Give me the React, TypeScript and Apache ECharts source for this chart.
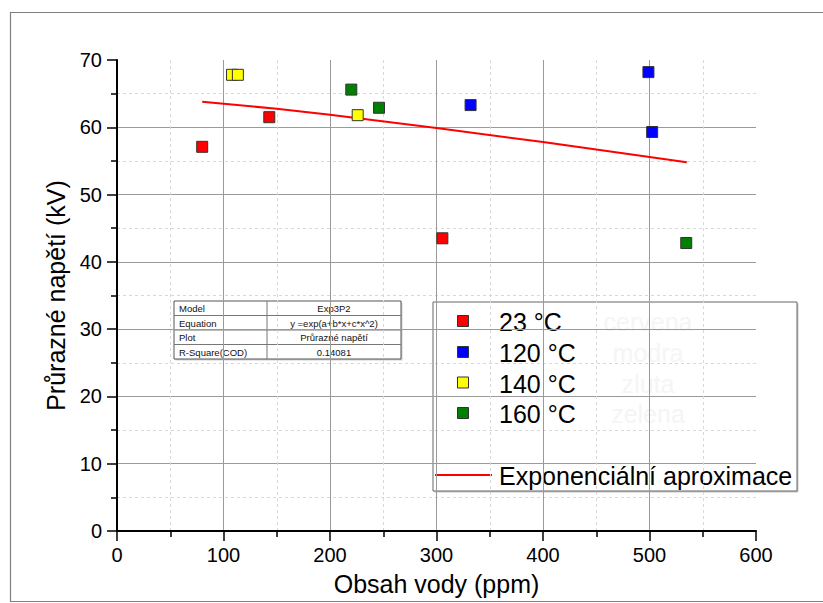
import React, { useEffect, useRef } from "react";
import * as echarts from "echarts";

const FONT = '"Liberation Sans", Arial, Helvetica, sans-serif';

// Measured series: [water content (ppm), breakdown voltage (kV)]
const SERIES_NAMES = ["23 °C", "120 °C", "140 °C", "160 °C"];
const SERIES_COLORS = ["#ff0000", "#0000ff", "#ffff00", "#008000"];
const data23 = [[80, 57.1], [143, 61.5], [305.5, 43.5]];
const data120 = [[332, 63.3], [499, 68.2], [502.5, 59.3]];
const data140 = [[108, 67.8], [113.5, 67.8], [226, 61.8]];
const data160 = [[220, 65.6], [246, 62.9], [534.5, 42.8]];
const SERIES_DATA = [data23, data120, data140, data160];

// Exponential fit curve, read at several water contents
const FIT_NAME = "Exponenciální aproximace";
const fitX = [80, 150, 200, 300, 400, 500, 535];
const fitY = [63.8, 62.75, 61.85, 59.9, 57.8, 55.6, 54.8];

// Hidden colour names kept in the legend box
const faintNames = ["cervena", "modra", "zluta", "zelena"];

// Fit report table
const tableRows = [
  ["Model", "Exp3P2"],
  ["Equation", "y =exp(a+b*x+c*x^2)"],
  ["Plot", "Průrazné napětí"],
  ["R-Square(COD)", "0.14081"],
];

const X_TITLE = "Obsah vody (ppm)";
const Y_TITLE = "Průrazné napětí (kV)";

function buildTable(): any {
  const x0 = 174;
  const y0 = 301;
  const w = 227;
  const col = 93;
  const rowH = 14.5;
  const children: any[] = [];
  children.push({
    type: "rect",
    shape: { x: x0 + 1.5, y: y0 + 1.5, width: w, height: rowH * tableRows.length },
    style: { fill: "#d0d0d0" },
  });
  children.push({
    type: "rect",
    shape: { x: x0, y: y0, width: w, height: rowH * tableRows.length },
    style: { fill: "#ffffff", stroke: "#555", lineWidth: 1 },
  });
  tableRows.forEach((row, i) => {
    if (i > 0) {
      children.push({
        type: "line",
        shape: { x1: x0, y1: y0 + i * rowH, x2: x0 + w, y2: y0 + i * rowH },
        style: { stroke: "#777", lineWidth: 1 },
      });
    }
    children.push({
      type: "text",
      style: {
        x: x0 + 5,
        y: y0 + i * rowH + rowH / 2 + 0.5,
        text: row[0],
        fontFamily: FONT,
        fontSize: 9.5,
        fill: "#111",
        verticalAlign: "middle",
        align: "left",
      },
    });
    children.push({
      type: "text",
      style: {
        x: x0 + col + (w - col) / 2,
        y: y0 + i * rowH + rowH / 2 + 0.5,
        text: row[1],
        fontFamily: FONT,
        fontSize: 9.5,
        fill: "#111",
        verticalAlign: "middle",
        align: "center",
      },
    });
  });
  children.push({
    type: "line",
    shape: { x1: x0 + col, y1: y0, x2: x0 + col, y2: y0 + rowH * tableRows.length },
    style: { stroke: "#777", lineWidth: 1 },
  });
  return { type: "group", children };
}

function buildLegend(): any {
  const children: any[] = [];
  children.push({
    type: "rect",
    shape: { x: 434.5, y: 303.5, width: 364, height: 189 },
    style: { fill: "#c8c8c8" },
  });
  children.push({
    type: "rect",
    shape: { x: 433, y: 302, width: 364, height: 189 },
    style: { fill: "#ffffff", stroke: "#666", lineWidth: 1 },
  });
  const rowsY = [321, 352, 382.5, 413];
  SERIES_NAMES.forEach((name, i) => {
    children.push({
      type: "rect",
      shape: { x: 457.5, y: rowsY[i] - 5.5, width: 11, height: 11 },
      style: { fill: SERIES_COLORS[i], stroke: "#333", lineWidth: 1 },
    });
    children.push({
      type: "text",
      style: {
        x: 499,
        y: rowsY[i] + 1,
        text: name,
        fontFamily: FONT,
        fontSize: 25,
        fill: "#000",
        verticalAlign: "middle",
        align: "left",
      },
    });
    children.push({
      type: "text",
      style: {
        x: 648,
        y: rowsY[i] + 1,
        text: faintNames[i],
        fontFamily: FONT,
        fontSize: 25,
        fill: "#f5f5f5",
        verticalAlign: "middle",
        align: "center",
      },
    });
  });
  children.push({
    type: "line",
    shape: { x1: 435, y1: 475, x2: 492, y2: 475 },
    style: { stroke: "#ff0000", lineWidth: 2 },
  });
  children.push({
    type: "text",
    style: {
      x: 499,
      y: 476,
      text: FIT_NAME,
      fontFamily: FONT,
      fontSize: 25,
      fill: "#000",
      verticalAlign: "middle",
      align: "left",
    },
  });
  return { type: "group", children };
}

function axisCommon(): any {
  return {
    type: "value",
    nameLocation: "middle",
    nameTextStyle: { fontFamily: FONT, fontSize: 25, color: "#000" },
    axisLine: { show: true, onZero: false, lineStyle: { color: "#000", width: 2 } },
    axisTick: { show: true, length: 10, lineStyle: { color: "#000", width: 1.5 } },
    minorTick: { show: true, splitNumber: 2, length: 6, lineStyle: { color: "#000", width: 1.5 } },
    axisLabel: { fontFamily: FONT, fontSize: 20, color: "#000" },
    splitLine: {
      show: true,
      showMinLine: false,
      showMaxLine: false,
      lineStyle: { color: "#9a9a9a", width: 1 },
    },
    minorSplitLine: {
      show: true,
      lineStyle: { color: "#d8d8d8", width: 1, type: [3, 3] },
    },
  };
}

export default function App() {
  const ref = useRef<HTMLDivElement>(null);

  useEffect(() => {
    if (!ref.current) return;
    const chart = echarts.init(ref.current, null, { renderer: "svg" });

    const scatterSeries = SERIES_NAMES.map((name, i) => ({
      name,
      type: "scatter",
      data: SERIES_DATA[i],
      symbol: "rect",
      symbolSize: 11,
      itemStyle: { color: SERIES_COLORS[i], borderColor: "#333", borderWidth: 1, opacity: 1 },
      z: 3,
    }));

    chart.setOption({
      animation: false,
      backgroundColor: "#ffffff",
      grid: { left: 117, top: 60, right: 67, bottom: 72, containLabel: false },
      xAxis: {
        ...axisCommon(),
        min: 0,
        max: 600,
        interval: 100,
        name: X_TITLE,
        nameGap: 40,
        axisLabel: { ...axisCommon().axisLabel, margin: 14 },
      },
      yAxis: {
        ...axisCommon(),
        min: 0,
        max: 70,
        interval: 10,
        name: Y_TITLE,
        nameGap: 42,
        axisLabel: { ...axisCommon().axisLabel, margin: 15 },
      },
      series: [
        {
          name: FIT_NAME,
          type: "line",
          data: fitX.map((x, i) => [x, fitY[i]]),
          symbol: "none",
          smooth: false,
          lineStyle: { color: "#ff0000", width: 2 },
          z: 2,
        },
        ...scatterSeries,
      ],
      graphic: [
        {
          type: "rect",
          shape: { x: 10.5, y: 12.5, width: 830, height: 589 },
          style: { fill: "none", stroke: "#808080", lineWidth: 1.2 },
          silent: true,
        },
        buildTable(),
        buildLegend(),
      ],
    });

    return () => chart.dispose();
  }, []);

  return (
    <div
      ref={ref}
      style={{ position: "fixed", left: 0, top: 0, width: 823, height: 603, background: "#fff" }}
    />
  );
}
